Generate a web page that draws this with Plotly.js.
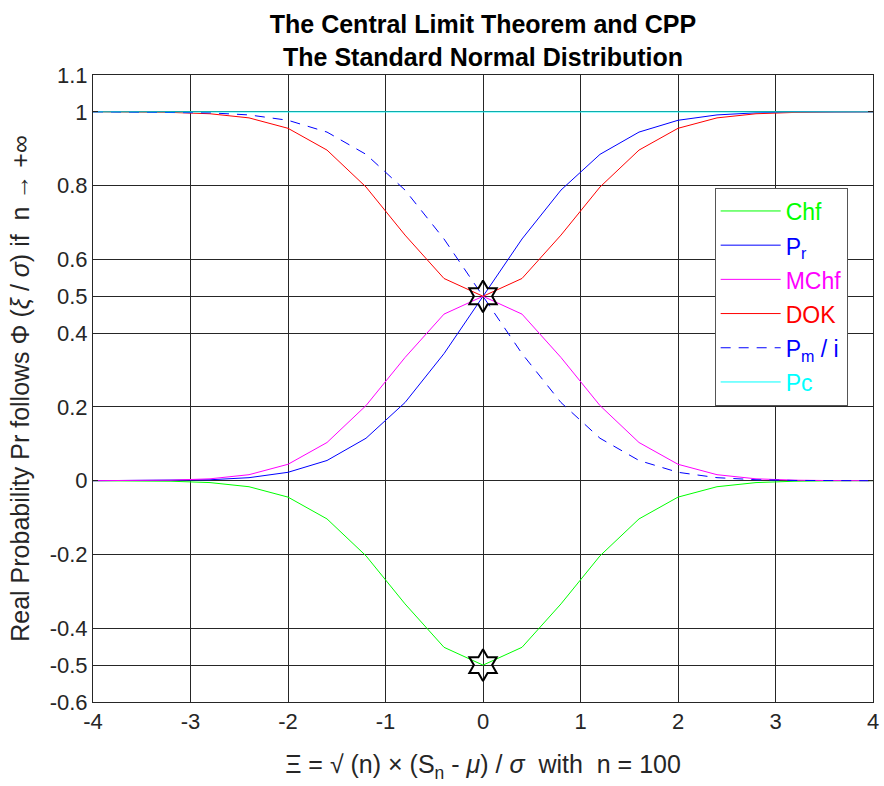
<!DOCTYPE html>
<html><head><meta charset="utf-8">
<script src="https://cdn.plot.ly/plotly-3.0.1.min.js"></script>
<style>body{margin:0;background:#fff}#chart{width:884px;height:786px}</style>
</head><body><div id="chart"></div>
<script>
const xVals = [-4,-3.6,-3.2,-2.8,-2.4,-2,-1.6,-1.2,-0.8,-0.4,0,0.4,0.8,1.2,1.6,2,2.4,2.8,3.2,3.6,4];
const chf = [-0.0001,-0.0003,-0.0014,-0.0051,-0.0163,-0.0445,-0.1036,-0.2037,-0.3340,-0.4517,-0.5,-0.4517,-0.3340,-0.2037,-0.1036,-0.0445,-0.0163,-0.0051,-0.0014,-0.0003,-0.0001];
const pr = [0.0000,0.0002,0.0007,0.0026,0.0082,0.0228,0.0548,0.1151,0.2119,0.3446,0.5,0.6554,0.7881,0.8849,0.9452,0.9772,0.9918,0.9974,0.9993,0.9998,1.0000];
const mchf = [0.0001,0.0003,0.0014,0.0051,0.0163,0.0445,0.1036,0.2037,0.3340,0.4517,0.5,0.4517,0.3340,0.2037,0.1036,0.0445,0.0163,0.0051,0.0014,0.0003,0.0001];
const dok = [0.9999,0.9997,0.9986,0.9949,0.9837,0.9555,0.8964,0.7963,0.6660,0.5483,0.5,0.5483,0.6660,0.7963,0.8964,0.9555,0.9837,0.9949,0.9986,0.9997,0.9999];
const pmi = [1.0000,0.9998,0.9993,0.9974,0.9918,0.9772,0.9452,0.8849,0.7881,0.6554,0.5,0.3446,0.2119,0.1151,0.0548,0.0228,0.0082,0.0026,0.0007,0.0002,0.0000];
const pc = [1,1,1,1,1,1,1,1,1,1,1,1,1,1,1,1,1,1,1,1,1];
const starX = [0, 0];
const starY = [0.5, -0.5];
const yTickVals = [-0.6,-0.5,-0.4,-0.2,0,0.2,0.4,0.5,0.6,0.8,1,1.1];
const yTickText = ['-0.6','-0.5','-0.4','-0.2','0','0.2','0.4','0.5','0.6','0.8','1','1.1'];
const xTickVals = [-4,-3,-2,-1,0,1,2,3,4];
const xTickText = ['-4','-3','-2','-1','0','1','2','3','4'];

const F = '"Liberation Sans", Arial, Helvetica, sans-serif';
function ln(y, color, name, dash){
  return {x:xVals, y:y, mode:'lines', name:'<span style="color:'+color+';font-size:23px">'+name+'</span>',
    line:{color:color, width:1, dash:dash||'solid'}};
}
const traces = [
  ln(chf,'#00ff00','Chf'),
  ln(pr,'#0000ff','P<sub>r</sub>'),
  ln(mchf,'#ff00ff','MChf'),
  ln(dok,'#ff0000','DOK'),
  ln(pmi,'#0000ff','P<sub>m</sub> / i','10px,8px'),
  ln(pc,'#00ffff','Pc'),
  {x:starX, y:starY, mode:'markers', showlegend:false,
   marker:{symbol:'hexagram-open', size:24, color:'#000', line:{width:2, color:'#000'}}}
];
const layout = {
  width:884, height:786,
  margin:{l:93, r:11, t:75, b:84},
  paper_bgcolor:'#fff', plot_bgcolor:'#fff',
  font:{family:F, size:22, color:'#262626'},
  title:{text:'<b>The Central Limit Theorem and CPP<br>The Standard Normal Distribution</b>',
    font:{family:F, size:25, color:'#000'}, xref:'paper', x:0.5, xanchor:'center',
    yref:'container', y:1-33/786, yanchor:'middle'},
  xaxis:{range:[-4,4], tickvals:xTickVals, ticktext:xTickText, showgrid:true, gridcolor:'#262626', gridwidth:1,
    zeroline:false, showline:true, linecolor:'#262626', mirror:'ticks', ticks:'inside', ticklen:5,
    tickcolor:'#262626', tickfont:{size:22},
    title:{text:'Ξ = √ (n) × (S<sub>n</sub> - <i>μ</i>) / <i>σ</i> &nbsp;with &nbsp;n = 100', font:{size:25}, standoff:22}},
  yaxis:{range:[-0.6,1.1], tickvals:yTickVals, ticktext:yTickText, showgrid:true, gridcolor:'#262626', gridwidth:1,
    zeroline:false, showline:true, linecolor:'#262626', mirror:'ticks', ticks:'inside', ticklen:5,
    tickcolor:'#262626', tickfont:{size:22},
    title:{text:'Real Probability Pr follows Φ (<i>ξ</i> / <i>σ</i>) if &nbsp;n → +∞', font:{size:25}, standoff:12}},
  legend:{x:0.797, y:0.82, xanchor:'left', yanchor:'top', bgcolor:'#fff', bordercolor:'#555', borderwidth:1,
    font:{size:24}, itemwidth:60, tracegroupgap:0},
  showlegend:true
};
Plotly.newPlot('chart', traces, layout, {displayModeBar:false, staticPlot:true});
</script></body></html>
